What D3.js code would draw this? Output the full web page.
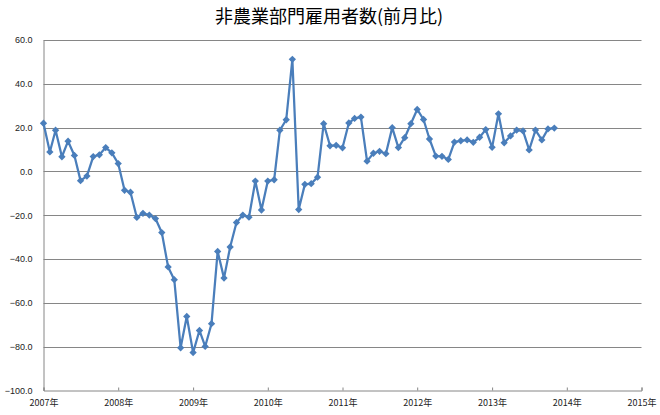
<!DOCTYPE html>
<html>
<head>
<meta charset="utf-8">
<script src="https://cdn.jsdelivr.net/npm/d3@7"></script>
<style>
  body { margin: 0; background: #fff; }
  svg { display: block; }
</style>
</head>
<body>
<svg id="chart" width="660" height="415"></svg>
<script>
// monthly values from Jan 2007, one per month
var start_year = 2007
var values = [
    22, 8.9, 18.8, 6.7, 13.8, 7.3, -4.2, -2.1, 6.8, 7.6, 10.9, 8.5,
    3.6, -8.6, -9.5, -21, -19.1, -19.9, -21.5, -27.9, -43.6, -49.4, -80.5, -66.2,
    -82.7, -72.6, -79.9, -69.5, -36.5, -48.7, -34.5, -23.3, -19.9, -20.9, -4.4, -17.6,
    -4.4, -3.8, 18.8, 23.6, 51.2, -17.4, -5.9, -5.6, -2.6, 21.8, 11.7, 11.9,
    10.8, 22.1, 24.2, 24.8, 4.7, 8.3, 9.2, 8.1, 20, 10.9, 15.4, 21.8,
    28.3, 23.7, 14.8, 7, 6.9, 5.5, 13.4, 14, 14.4, 13.3, 15.6, 19.1,
    11, 26.3, 13.1, 16.2, 18.9, 18.5, 9.8, 18.9, 14.4, 19.4, 19.8
]
var year_ticks = [2007, 2008, 2009, 2010, 2011, 2012, 2013, 2014, 2015]
var y_ticks = [60, 40, 20, 0, -20, -40, -60, -80, -100]
var title_text = "非農業部門雇用者数(前月比)"

var line_color = "#4a7ebb"
var grid_color = "#868686"
var label_font = "'Noto Sans CJK JP', 'Liberation Sans', sans-serif"

var svg = d3.select("#chart")
var plot_left = 43.5, plot_right = 641.5, plot_top = 40, plot_bottom = 390.5

var x = d3.scaleTime()
    .domain([new Date(year_ticks[0], 0, 1), new Date(year_ticks[year_ticks.length - 1], 0, 1)])
    .range([plot_left, plot_right])
var y = d3.scaleLinear().domain([-100, 60]).range([plot_bottom, plot_top])

var points = values.map(function(v, i) {
    return {date: new Date(start_year, i, 1), value: v}
})

// title
svg.append("text")
    .attr("x", 329)
    .attr("y", 23)
    .attr("text-anchor", "middle")
    .attr("font-family", label_font)
    .attr("font-size", 18)
    .attr("fill", "#000")
    .text(title_text)

// horizontal grid
svg.append("g")
    .selectAll("line").data(y_ticks.filter(function(d) { return d != -100 }))
    .enter().append("line")
    .attr("x1", plot_left)
    .attr("x2", plot_right)
    .attr("y1", function(d) { return Math.round(y(d)) + 0.5 })
    .attr("y2", function(d) { return Math.round(y(d)) + 0.5 })
    .attr("stroke", grid_color)
    .attr("stroke-width", 1)

// y axis
var y_axis = svg.append("g")
    .attr("transform", "translate(" + plot_left + ",0)")
    .call(d3.axisLeft(y).tickValues(y_ticks).tickSize(0).tickPadding(11)
        .tickFormat(d3.format(".1f")))
y_axis.select(".domain").attr("stroke", grid_color)
y_axis.selectAll("text")
    .attr("font-family", "'Liberation Sans', Arial, sans-serif")
    .attr("font-size", 9)
    .attr("fill", "#222")

// x axis, ticks pointing into the plot
var x_axis = svg.append("g")
    .attr("transform", "translate(0," + plot_bottom + ")")
    .call(d3.axisBottom(x)
        .tickValues(year_ticks.map(function(d) { return new Date(d, 0, 1) }))
        .tickSize(-3).tickPadding(9)
        .tickFormat(function(d) { return d.getFullYear() + "年" }))
x_axis.select(".domain").attr("stroke", grid_color)
x_axis.selectAll(".tick line").attr("stroke", grid_color)
x_axis.selectAll("text")
    .attr("font-family", label_font)
    .attr("font-size", 9)
    .attr("fill", "#222")

// series
var line = d3.line()
    .x(function(d) { return x(d.date) })
    .y(function(d) { return y(d.value) })

svg.append("path")
    .datum(points)
    .attr("fill", "none")
    .attr("stroke", line_color)
    .attr("stroke-width", 2.25)
    .attr("stroke-linejoin", "round")
    .attr("d", line)

svg.append("g")
    .selectAll("path").data(points)
    .enter().append("path")
    .attr("transform", function(d) { return "translate(" + x(d.date) + "," + y(d.value) + ")" })
    .attr("d", d3.symbol().type(d3.symbolDiamond2).size(34))
    .attr("fill", line_color)
</script>
</body>
</html>
